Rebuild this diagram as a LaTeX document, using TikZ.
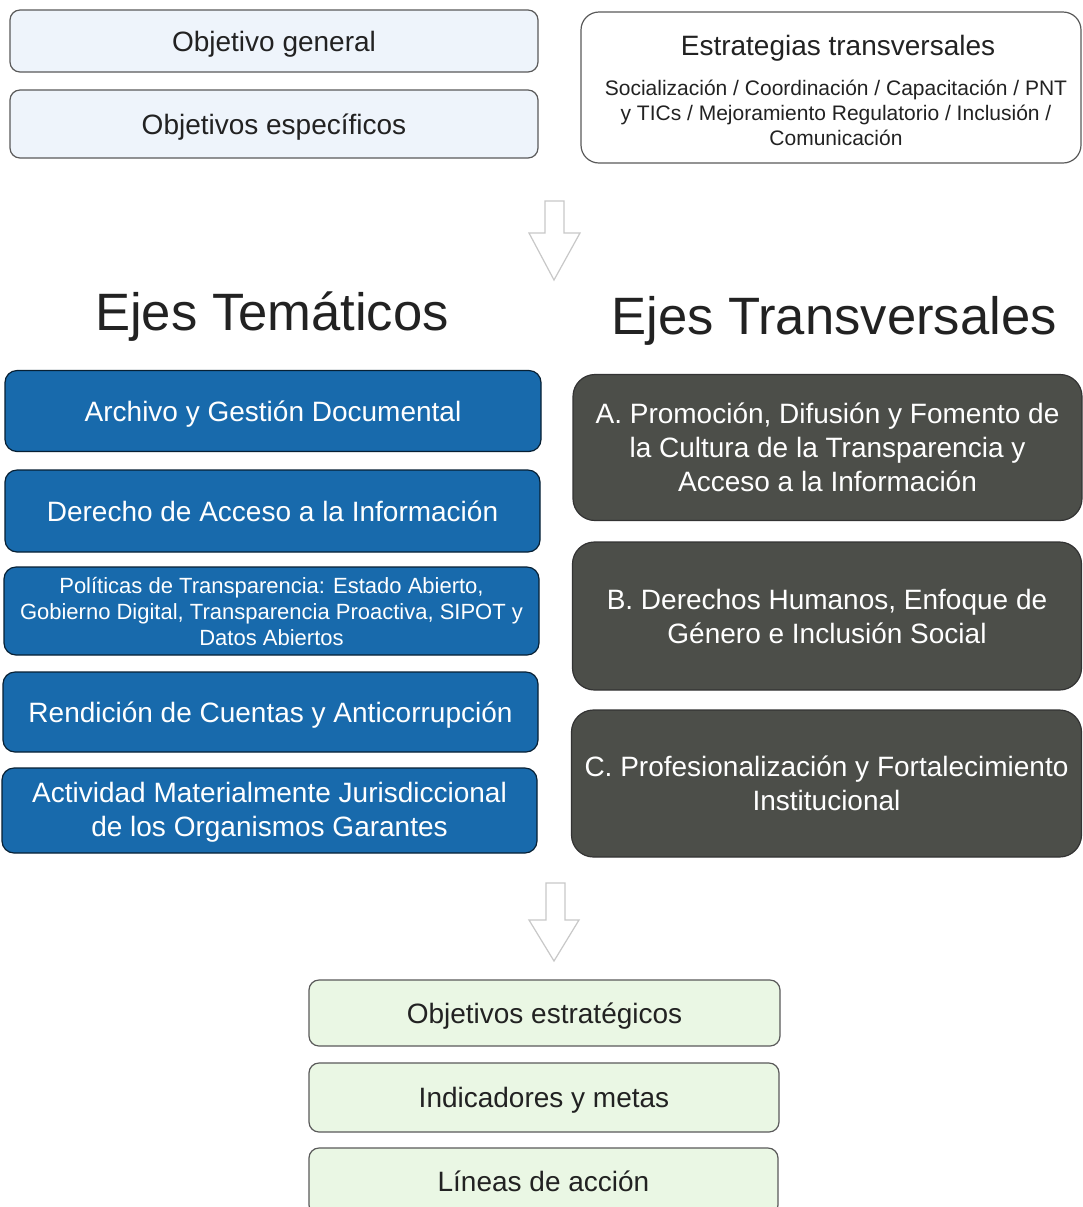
\documentclass[tikz,border=0pt]{standalone}
\usepackage{fontspec}
\setmainfont{Liberation Sans}
\definecolor{blueaxis}{RGB}{24,106,172}
\definecolor{greyaxis}{RGB}{76,78,73}
\definecolor{lightblue}{RGB}{238,244,251}
\definecolor{lightgreen}{RGB}{234,247,228}
\definecolor{txtdark}{RGB}{34,34,34}
\definecolor{edgegrey}{RGB}{90,90,90}
\definecolor{arrowgrey}{RGB}{200,200,200}
\begin{document}
\begin{tikzpicture}[x=0.5pt,y=-0.5pt,
  box/.style={rounded corners=5pt, inner sep=0pt, align=center, line width=0.6pt},
  oneline/.style={text height=10pt, text depth=0pt},
  lightbox/.style={box, draw=edgegrey, text=txtdark, font=\fontsize{14}{17}\selectfont},
  bluebox/.style={box, draw=black!70!blueaxis, fill=blueaxis, text=white, rounded corners=6pt, font=\fontsize{14}{17}\selectfont},
  greybox/.style={box, draw=black!80, fill=greyaxis, text=white, rounded corners=11pt, font=\fontsize{14}{17}\selectfont},
  title/.style={inner sep=0pt, text=txtdark, font=\fontsize{26.3}{30}\selectfont},
  blockarrow/.style={draw=arrowgrey, fill=white, line width=0.6pt, line join=miter}
]
\useasboundingbox[fill=white] (0,0) rectangle (1083,1207);

% top left
\node[lightbox, oneline, fill=lightblue, minimum width=264pt, minimum height=31pt] (og) at (274,41) {Objetivo general};
\node[lightbox, oneline, fill=lightblue, minimum width=264pt, minimum height=34pt] (oe) at (274,124) {Objetivos específicos};

% top right
\node[lightbox, fill=white, rounded corners=9pt, minimum width=250pt, minimum height=75.5pt] (et) at (831,87.5) {};
\node[inner sep=0pt, oneline, text=txtdark, font=\fontsize{14}{17}\selectfont] (ettitle) at (838,45) {Estrategias transversales};
\node[inner sep=0pt, text=txtdark, align=center, font=\fontsize{10.5}{12.5}\selectfont] (etbody) at (836,113) {Socialización / Coordinación / Capacitación / PNT\\y TICs / Mejoramiento Regulatorio / Inclusión /\\Comunicación};

% arrow 1
\path[blockarrow] (545,201) -- (564,201) -- (564,233) -- (580,233) -- (554,280) -- (529,233) -- (545,233) -- cycle;

% titles
\node[title] (ejtem) at (272,317) {Ejes Temáticos};
\node[title] (ejtra) at (834,321) {Ejes Transversales};

% blue boxes
\node[bluebox, oneline, minimum width=268pt, minimum height=40.5pt] (b1) at (273,411) {Archivo y Gestión Documental};
\node[bluebox, oneline, minimum width=267.5pt, minimum height=41pt] (b2) at (272.5,511) {Derecho de Acceso a la Información};
\node[bluebox, minimum width=267.5pt, minimum height=44pt, font=\fontsize{11}{13}\selectfont] (b3) at (271.5,611) {Políticas de Transparencia: Estado Abierto,\\Gobierno Digital, Transparencia Proactiva, SIPOT y\\Datos Abiertos};
\node[bluebox, oneline, minimum width=267.5pt, minimum height=40pt] (b4) at (270.5,712) {Rendición de Cuentas y Anticorrupción};
\node[bluebox, minimum width=267.5pt, minimum height=42.5pt] (b5) at (269.5,810.5) {\rule{0pt}{12pt}Actividad Materialmente Jurisdiccional\\de los Organismos Garantes};

% grey boxes
\node[greybox, minimum width=254.5pt, minimum height=73pt] (gA) at (827.5,447.5) {A. Promoción, Difusión y Fomento de\\la Cultura de la Transparencia y\\Acceso a la Información};
\node[greybox, minimum width=254.5pt, minimum height=74pt] (gB) at (827,616) {B. Derechos Humanos, Enfoque de\\Género e Inclusión Social};
\node[greybox, minimum width=255pt, minimum height=73.5pt] (gC) at (826.5,783.5) {C. Profesionalización y Fortalecimiento\\Institucional};

% arrow 2
\path[blockarrow] (546,883) -- (565,883) -- (565,920) -- (579,920) -- (554,961) -- (529,920) -- (546,920) -- cycle;

% green boxes
\node[lightbox, oneline, fill=lightgreen, minimum width=235.5pt, minimum height=33pt] (g1) at (544.5,1013) {Objetivos estratégicos};
\node[lightbox, oneline, fill=lightgreen, minimum width=235pt, minimum height=34.5pt] (g2) at (544,1097.5) {Indicadores y metas};
\node[lightbox, oneline, fill=lightgreen, minimum width=234.5pt, minimum height=33.5pt] (g3) at (543.5,1181.5) {Líneas de acción};
\end{tikzpicture}
\end{document}
